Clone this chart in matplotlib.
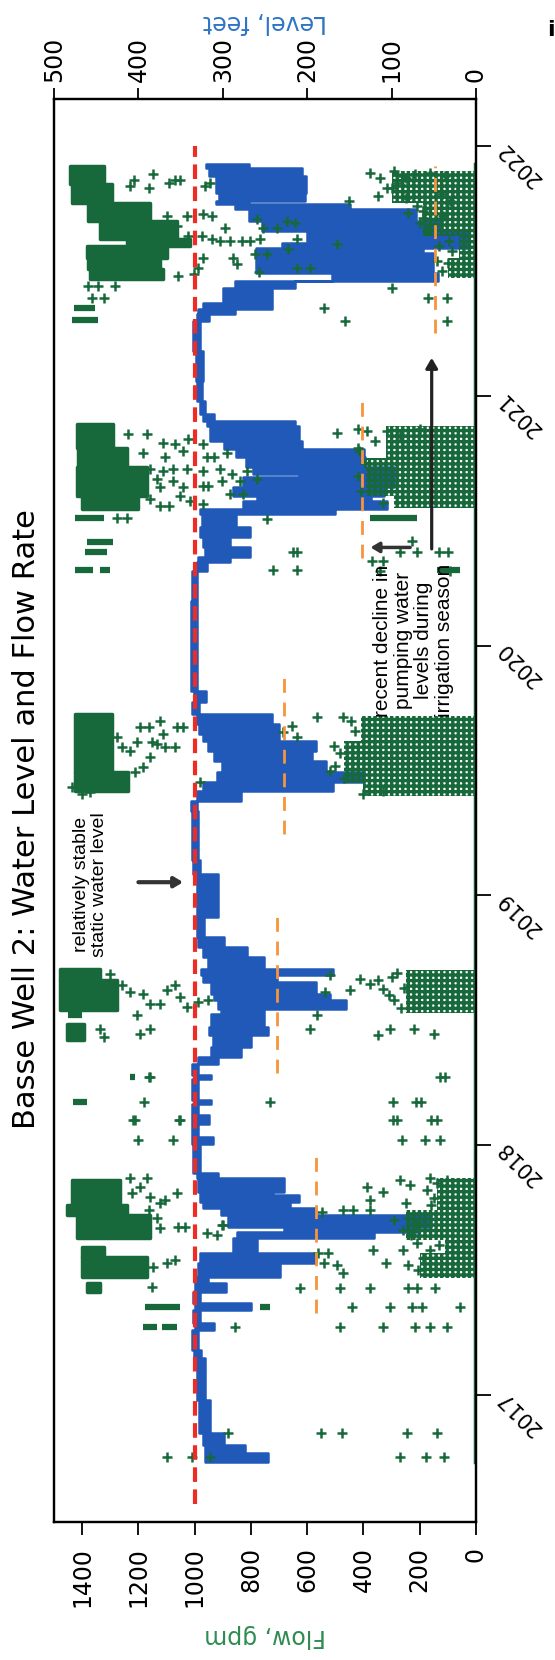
import matplotlib.pyplot as plt

# ---- water level (feet), step bins: start time, top and bottom of the band
level_t = [2016.733, 2016.770, 2016.800, 2016.850, 2016.980, 2017.150, 2017.180, 2017.260,
           2017.287, 2017.340, 2017.367, 2017.413, 2017.447, 2017.473, 2017.527, 2017.567,
           2017.627, 2017.653, 2017.673, 2017.720, 2017.747, 2017.773, 2017.800, 2017.813,
           2017.867, 2017.887, 2018.007, 2018.033, 2018.087, 2018.120, 2018.165, 2018.180,
           2018.267, 2018.280, 2018.327, 2018.353, 2018.393, 2018.440, 2018.473, 2018.527,
           2018.547, 2018.580, 2018.607, 2018.653, 2018.680, 2018.707, 2018.753, 2018.793,
           2018.833, 2018.913, 2019.087, 2019.140, 2019.340, 2019.380, 2019.420, 2019.453,
           2019.493, 2019.540, 2019.580, 2019.620, 2019.647, 2019.687, 2019.727, 2019.773,
           2019.820, 2020.180, 2020.300, 2020.333, 2020.353, 2020.393, 2020.433, 2020.473,
           2020.527, 2020.547, 2020.580, 2020.600, 2020.633, 2020.673, 2020.687, 2020.713,
           2020.753, 2020.787, 2020.820, 2020.880, 2020.900, 2020.927, 2020.980, 2021.060,
           2021.180, 2021.300, 2021.327, 2021.347, 2021.373, 2021.433, 2021.460, 2021.493,
           2021.573, 2021.593, 2021.613, 2021.660, 2021.700, 2021.747, 2021.767, 2021.780,
           2021.813, 2021.880, 2021.913, 2021.929]
level_hi = [321, 321, 324, 328, 331, 334, 337, 333, 335, 333, 335, 333, 331, 329, 327, 288,
            283, 228, 294, 302, 324, 327, 327, 329, 331, 335, 337, 337, 337, 337, 333, 337,
            333, 337, 329, 314, 312, 316, 314, 302, 306, 310, 314, 324, 326, 318, 324, 329,
            331, 331, 335, 336, 338, 330, 324, 307, 301, 311, 318, 324, 328, 330, 336, 334,
            338, 336, 331, 329, 321, 323, 327, 325, 327, 276, 260, 288, 276, 210, 264, 272,
            284, 299, 315, 319, 323, 327, 331, 332, 335, 331, 329, 324, 300, 285, 171, 261,
            261, 230, 200, 253, 269, 285, 308, 304, 308, 316, 320, 320]
level_lo = [247, 274, 299, 315, 321, 326, 329, 310, 327, 267, 327, 296, 318, 232, 189, 259,
            121, 70, 53, 189, 220, 210, 240, 228, 306, 327, 312, 329, 316, 329, 314, 329,
            314, 329, 306, 279, 267, 247, 251, 251, 154, 173, 189, 236, 169, 251, 271, 298,
            322, 306, 327, 329, 330, 279, 170, 133, 178, 194, 190, 233, 233, 242, 328, 320,
            330, 330, 319, 292, 268, 292, 268, 284, 167, 105, 125, 109, 97, 97, 97, 131,
            133, 206, 210, 214, 311, 321, 325, 324, 327, 316, 285, 242, 242, 214, 45, 51,
            63, 8, 8, 40, 71, 149, 269, 203, 201, 206, 269, 269]

# ---- flow (gpm): dense clusters of high-flow readings, rows of (t0, t1, low, high)
high_t0 = [2017.413, 2017.473, 2017.553, 2017.627, 2017.720, 2017.760, 2018.420, 2018.540,
           2018.660, 2019.420, 2019.493, 2020.547, 2020.600, 2020.713, 2020.793, 2021.467,
           2021.507, 2021.553, 2021.600, 2021.627, 2021.700, 2021.773, 2021.847]
high_t1 = [2017.447, 2017.553, 2017.593, 2017.720, 2017.760, 2017.860, 2018.487, 2018.660,
           2018.707, 2019.493, 2019.727, 2020.600, 2020.713, 2020.793, 2020.887, 2021.507,
           2021.553, 2021.600, 2021.627, 2021.700, 2021.773, 2021.847, 2021.920]
high_lo = [1336, 1170, 1324, 1158, 1241, 1265, 1395, 1277, 1336, 1236, 1295, 1200, 1170, 1241,
           1289, 1111, 1123, 1099, 1016, 1064, 1159, 1295, 1324]
high_hi = [1384, 1401, 1401, 1419, 1455, 1437, 1455, 1478, 1478, 1425, 1425, 1401, 1419, 1413,
           1419, 1372, 1378, 1384, 1241, 1336, 1378, 1437, 1443]

# speckled clusters of low-flow readings during pumping seasons
low_t0 = [2017.47, 2017.57, 2017.62, 2017.74, 2018.53, 2019.40, 2019.45, 2019.62,
          2020.55, 2020.60, 2020.75, 2021.47, 2021.55, 2021.64, 2021.77]
low_t1 = [2017.57, 2017.62, 2017.74, 2017.87, 2018.70, 2019.45, 2019.62, 2019.72,
          2020.60, 2020.75, 2020.88, 2021.55, 2021.64, 2021.77, 2021.90]
low_hi = [200, 110, 250, 140, 250, 400, 470, 410, 290, 390, 320, 100, 60, 190, 300]

# rows of readings at one time
strip_t = [2017.353, 2017.353, 2017.273, 2017.273, 2018.523, 2018.273, 2018.173, 2020.511,
           2020.413, 2020.373, 2020.304, 2020.304, 2020.511, 2020.304, 2021.353, 2021.303]
strip_lo = [1052, 732, 1135, 1064, 1401, 1212, 1381, 1324, 1289, 1313, 1360, 1301, 211, 56,
            1355, 1345]
strip_hi = [1176, 767, 1182, 1117, 1449, 1230, 1431, 1425, 1384, 1390, 1425, 1336, 376, 139,
            1430, 1435]

# single flow readings
pts_t = [2016.847, 2016.847, 2016.847, 2016.847, 2016.847, 2016.753, 2016.753, 2016.753,
         2016.753, 2016.753, 2016.753,
         2017.867, 2017.867, 2017.833, 2017.807, 2017.793, 2017.807, 2017.767, 2017.78,
         2017.74, 2017.707, 2017.667, 2017.673, 2017.673, 2017.647, 2017.64, 2017.68,
         2017.527, 2017.54, 2017.513, 2017.487, 2017.487, 2017.733, 2017.74, 2017.74,
         2017.74, 2017.567, 2017.567, 2017.527, 2017.52, 2017.487, 2017.833, 2017.813,
         2017.86, 2017.78, 2017.867, 2017.86, 2017.58, 2017.58, 2017.58, 2017.427,
         2017.427, 2017.427, 2017.427, 2017.427, 2017.427, 2017.353, 2017.353, 2017.353,
         2017.353, 2017.353, 2017.273, 2017.273, 2017.273, 2017.273, 2017.273, 2017.273,
         2017.68, 2018.103, 2018.103, 2018.103, 2018.103, 2018.02, 2018.02, 2018.02,
         2018.02, 2018.02, 2017.433,
         2017.50, 2017.52, 2017.55, 2017.60, 2017.64, 2017.66, 2017.69, 2017.71, 2017.76,
         2017.79, 2017.82, 2017.85, 2017.53, 2017.61, 2017.70, 2017.77, 2017.84,
         2018.687, 2018.64, 2018.613, 2018.607, 2018.567, 2018.567, 2018.62, 2018.64,
         2018.593, 2018.553, 2018.573, 2018.58, 2018.52, 2018.447, 2018.467, 2018.467,
         2018.433, 2018.467, 2018.52, 2018.613, 2018.68, 2018.62, 2018.667, 2018.647,
         2018.66, 2018.627, 2018.673, 2018.467, 2018.44, 2018.467, 2018.447, 2018.273,
         2018.273, 2018.273, 2018.273, 2018.173, 2018.173, 2018.173, 2018.1, 2018.1,
         2018.173, 2018.173, 2018.1, 2018.1,
         2018.55, 2018.58, 2018.63, 2018.69, 2018.60,
         2019.633, 2019.593, 2019.58, 2019.613, 2019.673, 2019.673, 2019.553, 2019.613,
         2019.607, 2019.647, 2019.593, 2019.593, 2019.7, 2019.673, 2019.673, 2019.513,
         2019.493, 2019.453, 2019.633, 2019.68, 2019.653, 2019.713, 2019.713, 2019.407,
         2019.42, 2019.433, 2019.407, 2019.413,
         2019.47, 2019.52, 2019.57, 2019.66, 2019.70, 2019.50, 2019.60,
         2020.847, 2020.847, 2020.813, 2020.807, 2020.827, 2020.807, 2020.78, 2020.773,
         2020.753, 2020.753, 2020.753, 2020.773, 2020.7, 2020.707, 2020.687, 2020.7,
         2020.707, 2020.707, 2020.7, 2020.707, 2020.667, 2020.66, 2020.633, 2020.633,
         2020.64, 2020.64, 2020.66, 2020.66, 2020.667, 2020.607, 2020.607, 2020.567,
         2020.58, 2020.6, 2020.56, 2020.56, 2020.587, 2020.507, 2020.373, 2020.373,
         2020.303, 2020.303, 2020.853, 2020.867, 2020.86, 2020.86, 2020.84, 2020.793,
         2020.34, 2020.34, 2020.373, 2020.42, 2020.373, 2020.373, 2020.373, 2020.3,
         2020.3, 2020.867, 2020.511, 2020.511,
         2020.57, 2020.62, 2020.68, 2020.73, 2020.78, 2020.82,
         2021.887, 2021.853, 2021.863, 2021.863, 2021.833, 2021.863, 2021.84, 2021.84,
         2021.853, 2021.727, 2021.72, 2021.72, 2021.72, 2021.68, 2021.64, 2021.64,
         2021.627, 2021.62, 2021.62, 2021.62, 2021.62, 2021.627, 2021.673, 2021.707,
         2021.673, 2021.673, 2021.7, 2021.693, 2021.627, 2021.587, 2021.567, 2021.567,
         2021.553, 2021.527, 2021.553, 2021.513, 2021.48, 2021.487, 2021.497, 2021.513,
         2021.513, 2021.607, 2021.78, 2021.893, 2021.873, 2021.833, 2021.9, 2021.88,
         2021.887, 2021.893, 2021.88, 2021.78, 2021.807, 2021.82, 2021.8, 2021.74,
         2021.72, 2021.733, 2021.433, 2021.393, 2021.393, 2021.3, 2021.3, 2021.353,
         2021.44, 2021.44, 2021.44, 2021.393, 2021.393,
         2021.50, 2021.53, 2021.58, 2021.60, 2021.66, 2021.69, 2021.75, 2021.79, 2021.85,
         2021.87, 2021.54, 2021.62, 2021.71, 2021.76, 2021.83]
pts_f = [882, 552, 477, 246, 140, 1100, 1009, 944, 271, 178, 115,
         1230, 1170, 1194, 1224, 1159, 1064, 1123, 1105, 1164, 1135, 1123, 1058, 1034, 957,
         921, 898, 1099, 1070, 1147, 1253, 1206, 548, 471, 436, 376, 560, 525, 542, 495,
         471, 388, 329, 270, 376, 163, 104, 365, 258, 163, 625, 483, 376, 240, 211, 145,
         442, 305, 228, 193, 56, 483, 329, 216, 163, 104, 856, 904, 1212, 1052, 282, 139,
         1200, 1076, 264, 181, 128, 1150,
         205, 240, 190, 130, 230, 260, 215, 240, 160, 150, 175, 140, 320, 210, 290, 250, 235,
         1301, 1259, 1230, 1182, 1159, 1123, 1099, 1070, 1052, 1028, 987, 951, 1206, 1194,
         1159, 1336, 1324, 590, 566, 536, 519, 448, 412, 376, 347, 329, 299, 305, 347, 222,
         151, 110, 1159, 128, 1162, 296, 215, 196, 159, 296, 732, 1181, 1219, 1057,
         265, 290, 255, 280, 310,
         1277, 1259, 1230, 1206, 1194, 1164, 1159, 1153, 1135, 1111, 1105, 1070, 1123, 1064,
         1040, 1182, 1212, 981, 637, 655, 685, 566, 471, 400, 329, 1437, 1401, 1372,
         470, 500, 485, 430, 445, 520, 505,
         1236, 1170, 1111, 1070, 1022, 969, 1040, 1182, 1105, 957, 933, 886, 969, 910, 868,
         815, 1028, 1076, 1111, 1159, 1135, 1076, 1123, 1040, 969, 951, 904, 839, 779, 874,
         827, 969, 1016, 1052, 1123, 1093, 1159, 744, 649, 637, 720, 637, 495, 418, 388,
         317, 270, 418, 371, 329, 270, 228, 211, 133, 98, 341, 92, 199, 1277, 1241,
         330, 410, 420, 395, 415, 360,
         1147, 1093, 1070, 1052, 1163, 1215, 1230, 963, 945, 971, 939, 1028, 1099, 1064,
         1022, 975, 939, 910, 874, 833, 803, 767, 892, 779, 756, 708, 673, 643, 637, 667,
         744, 785, 862, 850, 969, 987, 1058, 1004, 770, 637, 590, 495, 453, 376, 341, 317,
         293, 258, 216, 163, 110, 92, 122, 68, 347, 187, 116, 240, 299, 169, 104, 104, 465,
         542, 1378, 1342, 1283, 1366, 1324,
         120, 100, 85, 130, 175, 200, 165, 250, 280, 250, 140, 95, 190, 210, 300]

# pump off: zero flow recorded along the whole record
zero_t = [2016.733, 2021.929]

# static level and seasonal pumping levels (feet)
static_level = 333.3
static_t = [2016.564, 2022.0]
pump_level = [190, 236, 228, 135, 48]
pump_t0 = [2017.33, 2018.29, 2019.244, 2020.352, 2021.25]
pump_t1 = [2017.99, 2018.944, 2019.904, 2021.012, 2021.92]

years = [2017, 2018, 2019, 2020, 2021, 2022]
flow_ticks = [0, 200, 400, 600, 800, 1000, 1200, 1400]
level_ticks = [0, 100, 200, 300, 400, 500]

blue = '#2159b9'
green = '#17693c'
plt.rcParams['hatch.linewidth'] = 2.4

fig = plt.figure(figsize=(5.55, 16.6), dpi=100)
ax = fig.add_axes([54 / 555, 138 / 1660, 422 / 555, 1423 / 1660])
ax2 = ax.twiny()
ax.set_zorder(2)
ax.patch.set_visible(False)
ax2.set_zorder(1)

# level band
ax2.fill_betweenx(level_t, level_lo, level_hi, step='post', color=blue,
                  edgecolor=blue, lw=1.8)

# flow
for t0, t1, lo, hi in zip(high_t0, high_t1, high_lo, high_hi):
    ax.fill_betweenx([t0, t1], [lo, lo], [hi, hi], color=green, edgecolor=green, lw=2.5)
for t0, t1, hi in zip(low_t0, low_t1, low_hi):
    ax.fill_betweenx([t0, t1], [0, 0], [hi, hi], facecolor='none', edgecolor=green,
                     hatch='+++', lw=0)
ax.hlines(strip_t, strip_lo, strip_hi, color=green, lw=4.5)
ax.plot(pts_f, pts_t, ls='none', marker='+', ms=6.5, mew=1.8, color=green)
ax.plot([5, 5], zero_t, color=green, lw=2.5)

# reference lines drawn in level units on top of the flow points
tl = ax2.transData
ax.plot([static_level, static_level], static_t, transform=tl, color='#ee2b24',
        lw=3, dashes=(3.5, 1.8), zorder=5)
for lv, t0, t1 in zip(pump_level, pump_t0, pump_t1):
    ax.plot([lv, lv], [t0, t1], transform=tl, color='#f7943c', lw=2, dashes=(5, 3.5),
            zorder=5)

# annotations
ax.text(457, 2019.044, 'relatively stable\nstatic water level', transform=tl,
        rotation=90, ha='center', va='center', multialignment='center',
        fontsize=14, family='Liberation Sans', linespacing=1.05, zorder=6)
ax.annotate('', xy=(347, 2019.053), xytext=(400, 2019.053), xycoords=tl, textcoords=tl,
            arrowprops=dict(arrowstyle='-|>,head_length=0.5,head_width=0.3', lw=3,
                            color='#333333', shrinkA=0, shrinkB=0), zorder=6)
ax.text(74, 2020.02, 'recent decline in\npumping water\nlevels during\nirrigation season',
        transform=tl, rotation=90, ha='center', va='center', multialignment='center',
        fontsize=15, family='Liberation Sans', linespacing=1.12, zorder=6)
ax.annotate('', xy=(125, 2020.393), xytext=(78, 2020.393), xycoords=tl, textcoords=tl,
            arrowprops=dict(arrowstyle='-|>,head_length=0.5,head_width=0.3', lw=2.5,
                            color='#333333', shrinkA=0, shrinkB=0), zorder=6)
ax.annotate('', xy=(52.5, 2021.152), xytext=(52.5, 2020.387), xycoords=tl, textcoords=tl,
            arrowprops=dict(arrowstyle='-|>,head_length=0.6,head_width=0.35', lw=2.3,
                            color='#222222', shrinkA=0, shrinkB=0), zorder=6)

# axes
ax.set_xlim(1500, 0)
ax.set_ylim(2016.492, 2022.188)
ax2.set_xlim(500, 0)
ax.set_xticks(flow_ticks)
ax2.set_xticks(level_ticks)
ax.set_yticks(years)
ax.set_yticklabels([str(y) for y in years])
ax.yaxis.tick_right()
ax.tick_params(axis='x', length=9, width=1.3, pad=9, labelsize=17, labelrotation=90)
ax.tick_params(axis='y', length=11, width=1.3, pad=2, labelsize=15, labelrotation=135)
ax2.tick_params(axis='x', length=8, width=1.3, pad=4, labelsize=17, labelrotation=90)
for a in (ax, ax2):
    for s in a.spines.values():
        s.set_linewidth(1.6)

ax.set_xlabel('Flow, gpm', color='#2e8b50', fontsize=17, rotation=180, labelpad=12)
ax2.set_xlabel('Level, feet', color='#2e74c6', fontsize=17, rotation=180, labelpad=6)

fig.text(27 / 555, 1 - 819 / 1660, 'Basse Well 2: Water Level and Flow Rate',
         rotation=90, ha='center', va='center', fontsize=22)
fig.text(551 / 555, 1 - 30 / 1660, 'i', fontsize=16, weight='bold', ha='center',
         va='center')

fig.savefig('out.png', dpi=100)
